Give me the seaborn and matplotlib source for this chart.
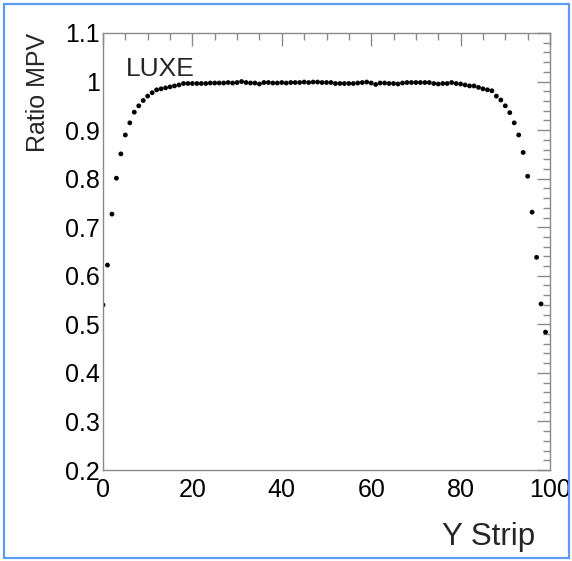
import numpy as np
import pandas as pd
import matplotlib
matplotlib.use("Agg")
import matplotlib.pyplot as plt
from matplotlib.ticker import MultipleLocator
from matplotlib.patches import Rectangle
import seaborn as sns

# strip index and MPV ratio
strips = list(range(100))
ratio_mpv = [
    0.540, 0.622, 0.727, 0.801, 0.851, 0.890, 0.915, 0.937, 0.950, 0.961,
    0.970, 0.977, 0.983, 0.985, 0.987, 0.989, 0.991, 0.993, 0.996, 0.996,
    0.996, 0.996, 0.996, 0.996, 0.997, 0.997, 0.997, 0.997, 0.998, 0.997,
    0.998, 1.000, 0.998, 0.997, 0.997, 0.995, 0.998, 0.998, 0.997, 0.997,
    0.998, 0.997, 0.998, 0.998, 0.998, 0.999, 0.998, 0.999, 0.999, 0.998,
    0.998, 0.998, 0.996, 0.996, 0.996, 0.996, 0.996, 0.997, 0.998, 0.999,
    0.997, 0.994, 0.997, 0.997, 0.996, 0.996, 0.995, 0.997, 0.998, 0.998,
    0.998, 0.998, 0.998, 0.998, 0.996, 0.995, 0.996, 0.996, 0.998, 0.996,
    0.995, 0.993, 0.991, 0.991, 0.988, 0.985, 0.983, 0.981, 0.970, 0.962,
    0.950, 0.936, 0.915, 0.890, 0.854, 0.805, 0.731, 0.638, 0.542, 0.484,
]
y_ticks = [0.2, 0.3, 0.4, 0.5, 0.6, 0.7, 0.8, 0.9, 1.0, 1.1]
y_tick_labels = ["0.2", "0.3", "0.4", "0.5", "0.6", "0.7", "0.8", "0.9", "1", "1.1"]

df = pd.DataFrame({"strip": strips, "ratio": ratio_mpv})

sns.set_style("white")
plt.rcParams["font.family"] = ["Liberation Sans", "DejaVu Sans"]

W, H = 572, 561
fig = plt.figure(figsize=(W / 100, H / 100), dpi=100)
ax = fig.add_axes([103 / W, 1 - 470 / H, 447 / W, 437 / H])

sns.scatterplot(data=df, x="strip", y="ratio", ax=ax, color="black",
                s=12, edgecolor="none", linewidth=0)

ax.set_xlim(0, 100)
ax.set_ylim(0.2, 1.1)
ax.xaxis.set_major_locator(MultipleLocator(20))
ax.xaxis.set_minor_locator(MultipleLocator(5))
ax.yaxis.set_minor_locator(MultipleLocator(0.02))
ax.set_yticks(y_ticks)
ax.set_yticklabels(y_tick_labels)

grey = "#8a8a8a"
ax.tick_params(which="both", direction="in", top=True, right=True,
               color=grey, width=1.0, labelsize=18, labelcolor="black")
ax.tick_params(which="major", length=9.4)
ax.tick_params(which="minor", length=4.7)
ax.tick_params(axis="x", pad=6)
ax.tick_params(axis="y", pad=2)
for sp in ax.spines.values():
    sp.set_color(grey)
    sp.set_linewidth(1.0)

ax.set_xlabel("")
ax.set_ylabel("")
fig.text(38 / W, 1 - 33 / H, "Ratio MPV", rotation=90, ha="center", va="top",
         fontsize=18)
fig.text(535 / W, 1 - 545 / H, "Y Strip", ha="right", va="baseline",
         fontsize=22.5)
ax.text(0.051, 0.9016, "LUXE", transform=ax.transAxes, fontsize=19,
        ha="left", va="baseline")

fig.patches.append(Rectangle((4 / W, 3 / H), 565 / W, 554 / H,
                             transform=fig.transFigure, fill=False,
                             edgecolor="#5b9cf0", linewidth=1.6))

fig.savefig("out.png", dpi=100)
